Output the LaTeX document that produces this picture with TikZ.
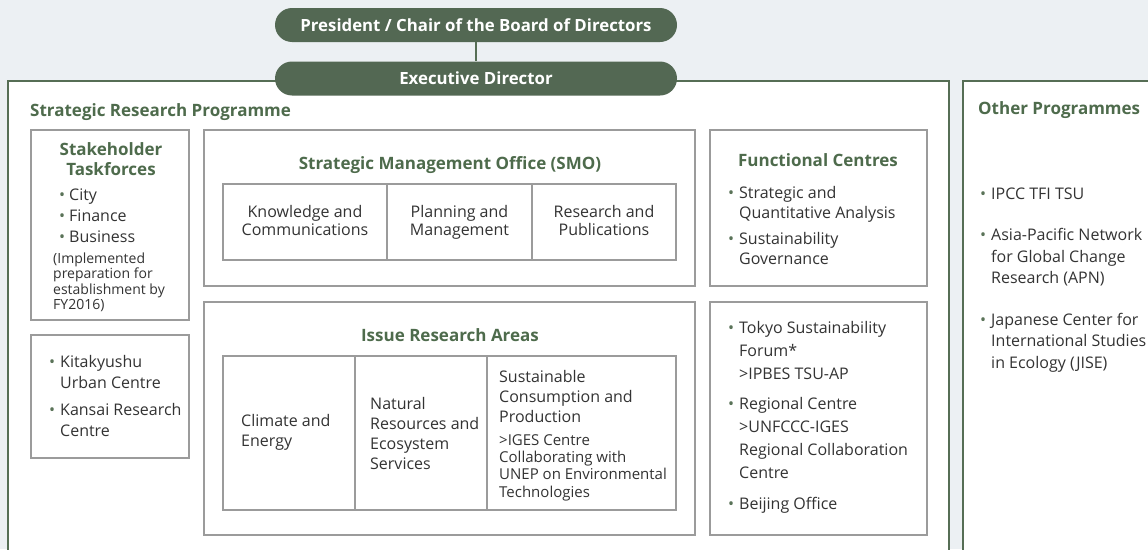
\documentclass[tikz,border=0pt]{standalone}
\usepackage{fontspec}
\setmainfont{Open Sans}
\definecolor{bgc}{HTML}{ECF0F3}
\definecolor{pillc}{HTML}{536853}
\definecolor{framec}{HTML}{566E55}
\definecolor{ttlc}{HTML}{4E6B4C}
\definecolor{boxc}{HTML}{9B9B9B}
\definecolor{txtc}{HTML}{333333}
\definecolor{dotc}{HTML}{5A7358}
\newcommand\bl{\makebox[10pt][l]{\textcolor{dotc}{\textbullet}}}
\newcommand\bll{\makebox[11pt][l]{\textcolor{dotc}{\textbullet}}}
\tikzset{
  pill/.style={fill=pillc, draw=none, rounded corners=17pt, minimum width=402pt, minimum height=34pt,
    text=white, font=\fontsize{16.8}{18}\selectfont\bfseries, inner sep=0pt},
  frameline/.style={draw=framec, line width=1.6pt},
  gbox/.style={draw=boxc, line width=1.1pt, fill=white},
  body/.style={font=\fontsize{16}{20}\selectfont, text=txtc, inner sep=0pt, align=left, anchor=base west},
  cell/.style={font=\fontsize{16}{18}\selectfont, text=txtc, inner sep=0pt, align=center, anchor=base},
  ttl/.style={font=\fontsize{17}{20}\selectfont\bfseries, text=ttlc, inner sep=0pt, align=center, anchor=base},
}
\begin{document}
\begin{tikzpicture}[x=1pt,y=-1pt]
\useasboundingbox (0,0) rectangle (1148,549);
\clip (0,0) rectangle (1148,549);
\fill[bgc] (0,0) rectangle (1148,549);
% outer frames
\draw[frameline, fill=white] (8,81) rectangle (949,570);
\draw[frameline, fill=white] (963,81) rectangle (1170,570);
% top pills
\node[pill] (pres) at (476,25) {President / Chair of the Board of Directors};
\node[pill] (exec) at (476,78.5) {Executive Director};
\draw[framec, line width=1.4pt] (pres) -- (exec);
% programme labels
\node[ttl, anchor=base west] (srp) at (30,116) {Strategic Research Programme};
\node[ttl, anchor=base west] (op) at (978,114) {Other Programmes};
% stakeholder box
\draw[gbox] (31,130) rectangle (189,320);
\node[ttl] (skt) at (111,175) {Stakeholder\\Taskforces};
\node[body, font=\fontsize{16}{21}\selectfont] (skl) at (59,242.5) {\bl City\\\bl Finance\\\bl Business};
\node[body, font=\fontsize{14}{15.5}\selectfont] (skn) at (53,309.5) {(Implemented\\preparation for\\establishment by\\FY2016)};
% kitakyushu box
\draw[gbox] (31,335) rectangle (189,458);
\node[body, font=\fontsize{16}{20.5}\selectfont] (kit) at (49,436) {\bll Kitakyushu\\\hspace*{11pt}Urban Centre\\[7pt]\bll Kansai Research\\\hspace*{11pt}Centre};
% SMO box
\draw[gbox] (204,130) rectangle (695,286);
\node[ttl] (smo) at (450,169) {Strategic Management Office (SMO)};
\draw[gbox] (223,184) rectangle (676,260);
\draw[boxc, line width=1.1pt] (387,184) -- (387,260) (532,184) -- (532,260);
\node[cell] (kc) at (305,235.5) {Knowledge and\\Communications};
\node[cell] (pm) at (459.5,235.5) {Planning and\\Management};
\node[cell] (rp) at (604,235.5) {Research and\\Publications};
% Issue research box
\draw[gbox] (204,302) rectangle (695,535);
\node[ttl] (ira) at (450,341) {Issue Research Areas};
\draw[gbox] (223,356) rectangle (676,510);
\draw[boxc, line width=1.1pt] (355,356) -- (355,510) (487,356) -- (487,510);
\node[body] (ce) at (241,446.5) {Climate and\\Energy};
\node[body] (nr) at (370,469.5) {Natural\\Resources and\\Ecosystem\\Services};
\node[body] (scp) at (499,422.5) {Sustainable\\Consumption and\\Production};
\node[body, font=\fontsize{15}{17.3}\selectfont] (iges) at (499,497) {>IGES Centre\\Collaborating with\\UNEP on Environmental\\Technologies};
% functional centres
\draw[gbox] (710,130) rectangle (927,286);
\node[ttl] (fc) at (818,166) {Functional Centres};
\node[body, font=\fontsize{16}{20}\selectfont] (fcl) at (728,264.5) {\bll Strategic and\\\hspace*{11pt}Quantitative Analysis\\[6pt]\bll Sustainability\\\hspace*{11pt}Governance};
% tokyo box
\draw[gbox] (710,302) rectangle (927,535);
\node[body, font=\fontsize{16}{23}\selectfont] (tk) at (728,509.5) {\bll Tokyo Sustainability\\\hspace*{11pt}Forum*\\\hspace*{11pt}>IPBES TSU-AP\\[7pt]\bll Regional Centre\\\hspace*{11pt}>UNFCCC-IGES\\\hspace*{11pt}Regional Collaboration\\\hspace*{11pt}Centre\\[8pt]\bll Beijing Office};
% other programmes list
\node[body, font=\fontsize{16}{21.5}\selectfont] (opl) at (980,368) {\bll IPCC TFI TSU\\[19.5pt]\bll Asia-Pacific Network\\\hspace*{11pt}for Global Change\\\hspace*{11pt}Research (APN)\\[20pt]\bll Japanese Center for\\\hspace*{11pt}International Studies\\\hspace*{11pt}in Ecology (JISE)};
\end{tikzpicture}
\end{document}
